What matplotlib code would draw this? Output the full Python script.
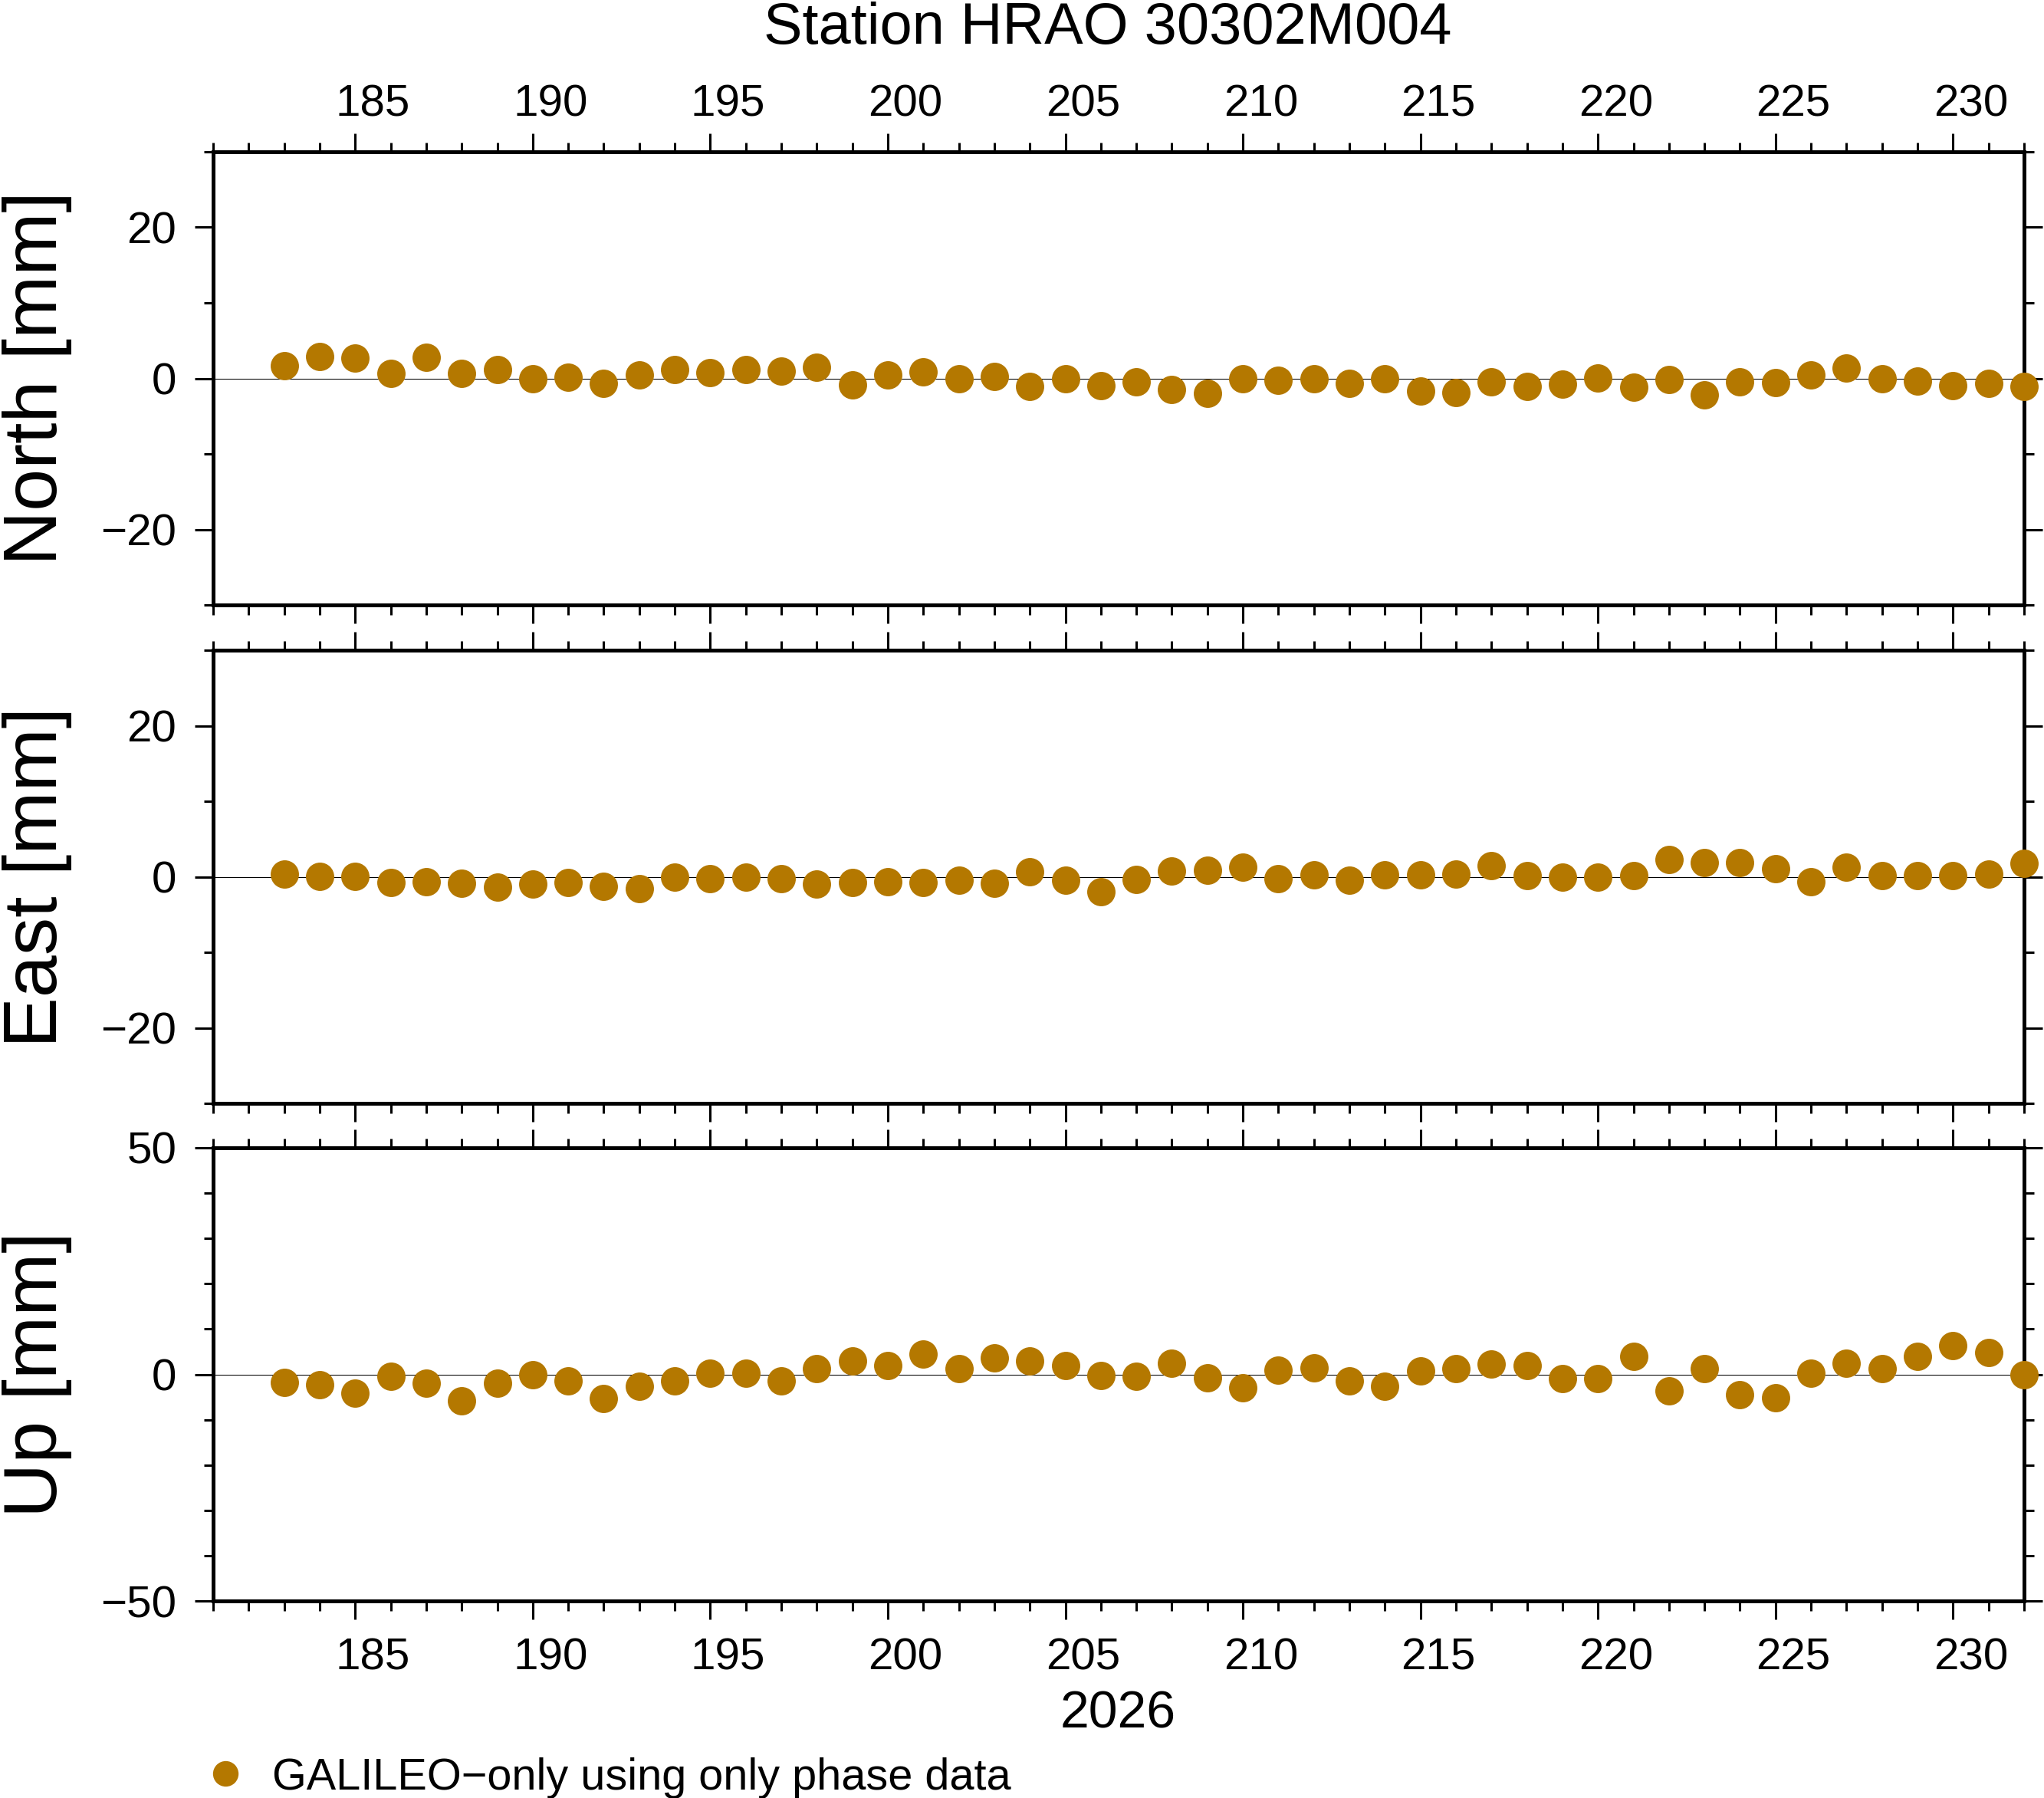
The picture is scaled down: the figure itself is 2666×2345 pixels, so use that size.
import matplotlib
matplotlib.use("Agg")
from matplotlib import pyplot as plt
from matplotlib.lines import Line2D
from matplotlib.ticker import MultipleLocator
from matplotlib.transforms import ScaledTranslation

plt.rcParams['font.family'] = ['Liberation Sans', 'DejaVu Sans']

# day of year 2026
days = list(range(183, 233))

north = [1.7, 2.9, 2.7, 0.7, 2.8, 0.7, 1.2, 0.0, 0.2, -0.7,
         0.5, 1.2, 0.8, 1.2, 1.0, 1.5, -0.9, 0.5, 0.9, -0.1,
         0.3, -1.1, -0.1, -1.0, -0.5, -1.5, -2.0, 0.0, -0.3, 0.0,
         -0.7, 0.0, -1.7, -1.9, -0.5, -1.1, -0.8, 0.1, -1.2, -0.2,
         -2.2, -0.5, -0.6, 0.5, 1.4, -0.1, -0.4, -1.0, -0.7, -1.1]

east = [0.4, 0.1, 0.1, -0.8, -0.7, -0.9, -1.4, -1.0, -0.8, -1.3,
        -1.6, -0.1, -0.3, 0.0, -0.3, -1.0, -0.8, -0.7, -0.8, -0.5,
        -0.9, 0.7, -0.5, -2.0, -0.4, 0.8, 0.9, 1.3, -0.3, 0.3,
        -0.5, 0.3, 0.3, 0.4, 1.5, 0.2, 0.0, 0.0, 0.2, 2.3,
        1.9, 1.9, 1.1, -0.7, 1.3, 0.2, 0.2, 0.2, 0.4, 1.8]

up = [-1.7, -2.2, -4.1, -0.5, -1.9, -5.8, -2.0, 0.0, -1.4, -5.3,
      -2.7, -1.5, 0.2, 0.3, -1.5, 1.2, 2.9, 1.9, 4.4, 1.2,
      3.6, 3.0, 1.9, -0.3, -0.5, 2.5, -0.7, -2.9, 0.9, 1.4,
      -1.5, -2.7, 0.7, 1.2, 2.2, 1.9, -0.9, -1.0, 3.9, -3.7,
      1.2, -4.4, -5.1, 0.3, 2.5, 1.2, 3.9, 6.3, 4.8, 0.0]

components = ["North [mm]", "East [mm]", "Up [mm]"]
ylims = [30, 30, 50]
ymajor = [20, 20, 50]
series = [north, east, up]

dot_color = '#b47800'
W, H = 2666, 2345


def style_axis(ax, lim, major, labeltop, labelbottom):
    ax.set_xlim(181, 232)
    ax.set_ylim(-lim, lim)
    ax.xaxis.set_major_locator(MultipleLocator(5))
    ax.xaxis.set_minor_locator(MultipleLocator(1))
    ax.yaxis.set_major_locator(MultipleLocator(major))
    ax.yaxis.set_minor_locator(MultipleLocator(10))
    for sp in ax.spines.values():
        sp.set_linewidth(3.6)
    ax.tick_params(which='both', direction='out', top=True, bottom=True,
                   left=True, right=True, width=2.2, labelsize=42,
                   labelright=False, labeltop=labeltop,
                   labelbottom=labelbottom)
    ax.tick_params(which='major', length=17.5)
    ax.tick_params(which='minor', length=9)
    ax.tick_params(axis='y', pad=17)
    if labeltop:
        ax.tick_params(axis='x', pad=7)
    else:
        ax.tick_params(axis='x', pad=17)


def shift_day_labels(ax, fig):
    # day labels sit in the middle of the day, half a day right of the tick
    px_per_day = (2640 - 278) / 51
    offset = ScaledTranslation(px_per_day / 2 / fig.dpi, 0, fig.dpi_scale_trans)
    locs = ax.xaxis.get_majorticklocs()
    for tick in ax.xaxis.get_major_ticks(len(locs)):
        tick.label1.set_transform(tick.label1.get_transform() + offset)
        tick.label2.set_transform(tick.label2.get_transform() + offset)


def main():
    fig = plt.figure(figsize=(W / 100, H / 100), dpi=100)
    left = 278 / W
    width = (2640 - 278) / W
    tops = [198, 848, 1497]
    height = 591 / H

    for i in range(3):
        bottom = 1 - (tops[i] + 591) / H
        ax = fig.add_axes([left, bottom, width, height])
        style_axis(ax, ylims[i], ymajor[i], i == 0, i == 2)
        ax.axhline(0, color='black', lw=0.75, zorder=1)
        ax.plot(days, series[i], 'o', color=dot_color, markersize=26.6,
                markeredgewidth=0, clip_on=False, zorder=3)
        ax.set_ylabel(components[i], fontsize=71, va='baseline')
        ax.yaxis.set_label_coords((74 - 278) / (2640 - 278), 0.5)
        shift_day_labels(ax, fig)

    fig.text(1445 / W, 1 - 57 / H, "Station HRAO 30302M004", fontsize=54.5,
             ha='center', va='baseline')
    fig.text(1458 / W, 1 - 2253 / H, "2026", fontsize=49,
             ha='center', va='baseline')

    # legend
    fig.add_artist(Line2D([294 / W], [1 - 2313 / H], marker='o',
                          color=dot_color, markersize=24, markeredgewidth=0,
                          linestyle='none', transform=fig.transFigure))
    fig.text(355 / W, 1 - 2334 / H, "GALILEO\u2212only using only phase data",
             fontsize=41.5, ha='left', va='baseline')

    fig.savefig("out.png", dpi=100)


if __name__ == "__main__":
    main()
